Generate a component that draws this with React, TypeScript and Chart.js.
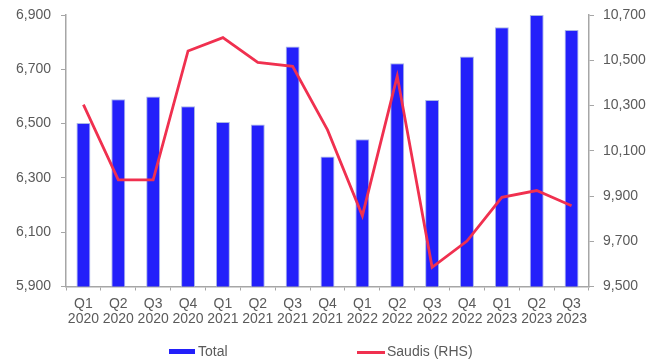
import React, { useEffect, useRef } from "react";
import { Chart, registerables } from "chart.js";

Chart.register(...registerables);

const categories: string[][] = [
  ["Q1", "2020"], ["Q2", "2020"], ["Q3", "2020"], ["Q4", "2020"],
  ["Q1", "2021"], ["Q2", "2021"], ["Q3", "2021"], ["Q4", "2021"],
  ["Q1", "2022"], ["Q2", "2022"], ["Q3", "2022"], ["Q4", "2022"],
  ["Q1", "2023"], ["Q2", "2023"], ["Q3", "2023"],
];

const totalValues: number[] = [
  6502, 6590, 6600, 6564, 6506, 6497, 6784, 6379,
  6442, 6722, 6587, 6747, 6855, 6900, 6845,
];

const saudisValues: number[] = [
  10304, 9971, 9971, 10541, 10600, 10491, 10473, 10192,
  9813, 10430, 9585, 9701, 9894, 9924, 9857,
];

const seriesNames: string[] = ["Total", "Saudis (RHS)"];

const leftTicks = { min: 5900, max: 6900, step: 200 };
const rightTicks = { min: 9500, max: 10700, step: 200 };

const BAR_COLOR = "#2320FA";
const BAR_BORDER = "#A9B6E4";
const LINE_COLOR = "#F0304F";
const TEXT_COLOR = "#5A5A5A";
const AXIS_COLOR = "#A6A6A6";
const FONT = "'Liberation Sans', Arial, sans-serif";

export default function App() {
  const canvasRef = useRef<HTMLCanvasElement | null>(null);

  useEffect(() => {
    if (!canvasRef.current) return;
    const chart = new Chart(canvasRef.current, {
      type: "bar",
      data: {
        labels: categories,
        datasets: [
          {
            type: "bar",
            label: seriesNames[0],
            data: totalValues,
            backgroundColor: BAR_COLOR,
            borderColor: BAR_BORDER,
            borderWidth: 1,
            yAxisID: "y",
            categoryPercentage: 1,
            barPercentage: 0.4,
            order: 2,
          },
          {
            type: "line",
            label: seriesNames[1],
            data: saudisValues,
            borderColor: LINE_COLOR,
            backgroundColor: LINE_COLOR,
            borderWidth: 2.8,
            pointRadius: 0,
            tension: 0,
            yAxisID: "y1",
            order: 1,
          },
        ],
      },
      options: {
        animation: false,
        responsive: false,
        maintainAspectRatio: false,
        layout: { padding: { top: 15, left: 0, right: 0, bottom: 30 } },
        plugins: {
          tooltip: { enabled: false },
          legend: { display: false },
        },
        scales: {
          x: {
            offset: true,
            grid: {
              display: true,
              drawOnChartArea: false,
              offset: true,
              tickLength: 4,
              color: AXIS_COLOR,
            },
            border: { display: true, color: AXIS_COLOR, width: 1.5 },
            ticks: {
              font: { family: FONT, size: 14, lineHeight: 1.1 },
              color: TEXT_COLOR,
              maxRotation: 0,
              autoSkip: false,
              padding: 6,
            },
            afterFit: (scale: any) => {
              scale.height = 45.5;
            },
          },
          y: {
            position: "left",
            min: leftTicks.min,
            max: leftTicks.max,
            grid: {
              display: true,
              drawOnChartArea: false,
              tickLength: 5,
              color: AXIS_COLOR,
            },
            border: { display: true, color: AXIS_COLOR, width: 1.5 },
            ticks: {
              stepSize: leftTicks.step,
              font: { family: FONT, size: 14 },
              color: TEXT_COLOR,
              padding: 10,
              callback: (v: any) => Number(v).toLocaleString("en-US"),
            },
            afterFit: (scale: any) => {
              scale.width = 66;
              scale.paddingTop = 0;
              scale.paddingBottom = 0;
            },
          },
          y1: {
            position: "right",
            min: rightTicks.min,
            max: rightTicks.max,
            grid: {
              display: true,
              drawOnChartArea: false,
              tickLength: 5,
              color: AXIS_COLOR,
            },
            border: { display: true, color: AXIS_COLOR, width: 1.5 },
            ticks: {
              stepSize: rightTicks.step,
              font: { family: FONT, size: 14 },
              color: TEXT_COLOR,
              padding: 9,
              callback: (v: any) => Number(v).toLocaleString("en-US"),
            },
            afterFit: (scale: any) => {
              scale.width = 73;
              scale.paddingTop = 0;
              scale.paddingBottom = 0;
            },
          },
        },
      },
    });
    return () => chart.destroy();
  }, []);

  const legendText: React.CSSProperties = {
    position: "absolute",
    top: 342,
    fontFamily: FONT,
    fontSize: 14,
    lineHeight: "18px",
    color: TEXT_COLOR,
    whiteSpace: "nowrap",
  };

  return (
    <div style={{ position: "fixed", left: 0, top: 0, width: 662, height: 362, background: "#fff" }}>
      <canvas ref={canvasRef} width={662} height={362} style={{ width: 662, height: 362, display: "block" }} />
      <div style={{ position: "absolute", left: 169, top: 349, width: 26, height: 5, background: BAR_COLOR }} />
      <div style={{ ...legendText, left: 198 }}>{seriesNames[0]}</div>
      <div style={{ position: "absolute", left: 357, top: 351, width: 28, height: 3, background: LINE_COLOR }} />
      <div style={{ ...legendText, left: 387 }}>{seriesNames[1]}</div>
    </div>
  );
}
